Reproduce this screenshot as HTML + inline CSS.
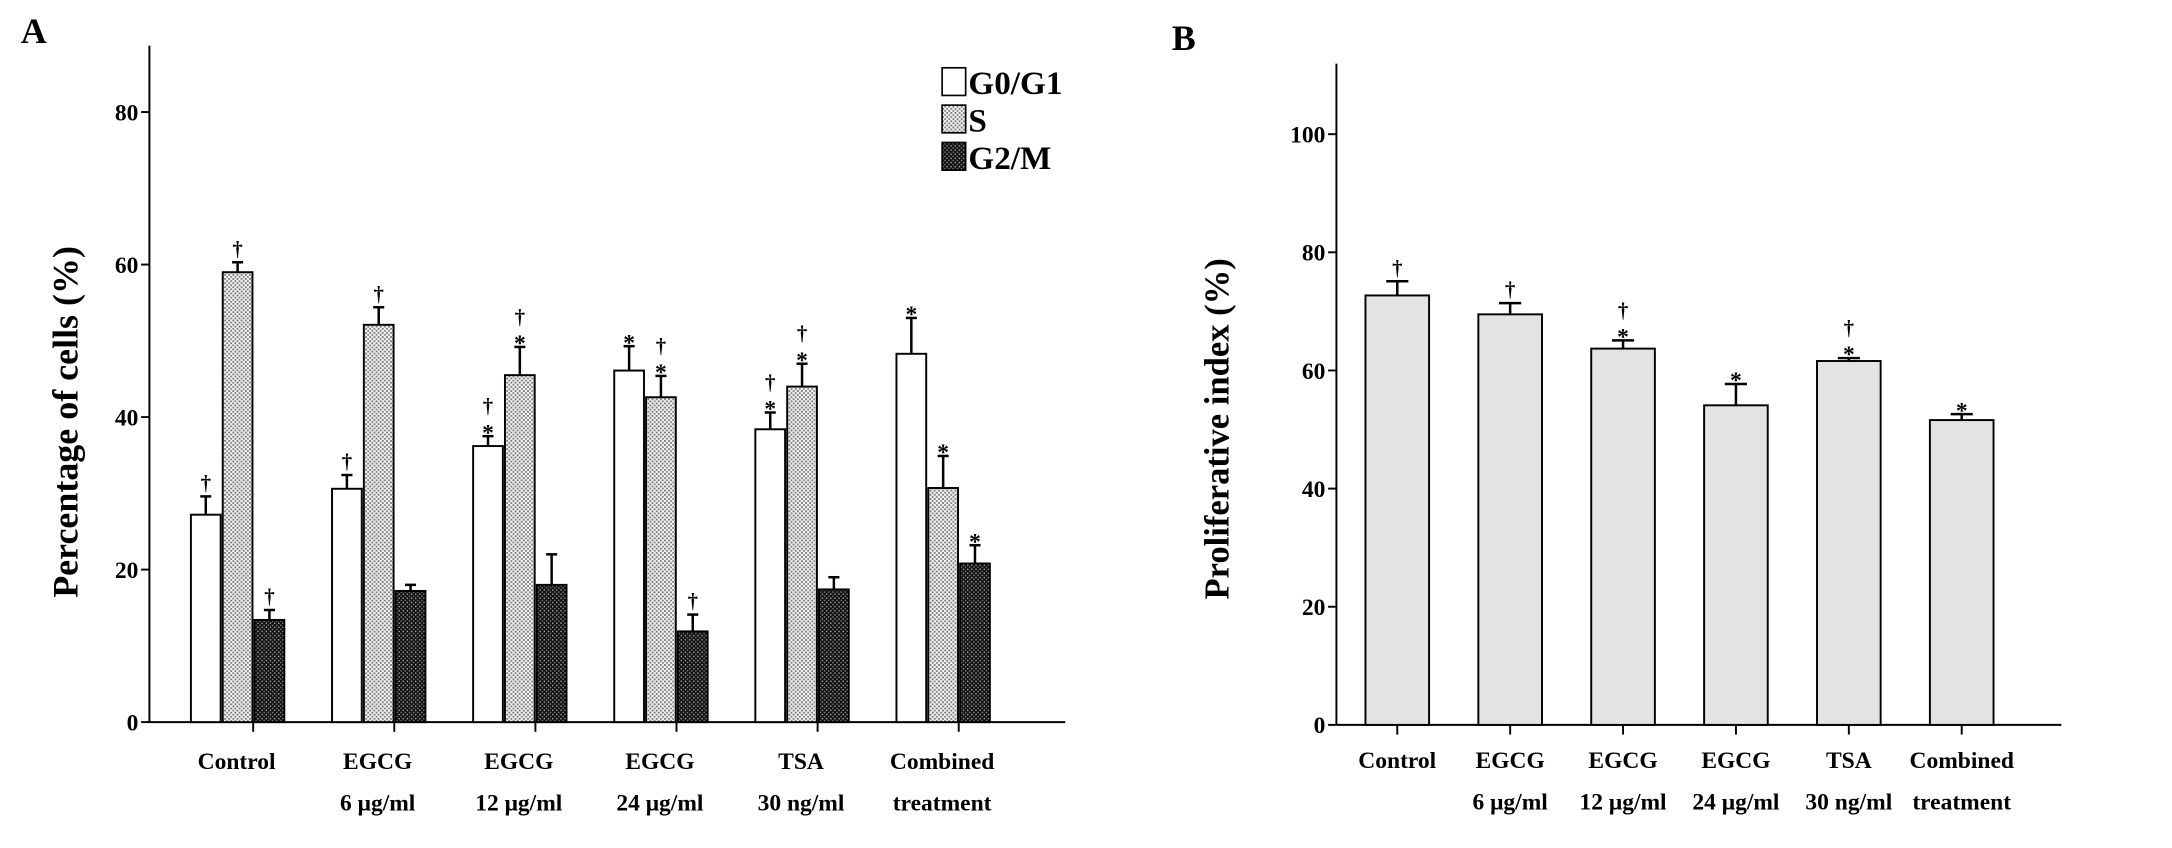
<!DOCTYPE html>
<html><head><meta charset="utf-8">
<style>
html,body{margin:0;padding:0;background:#fff;}
svg{display:block;}
text{font-family:"Liberation Serif",serif;font-weight:bold;fill:#000;}
</style></head>
<body>
<svg id="fig" width="2172" height="848" viewBox="0 0 1570 613" preserveAspectRatio="none" xmlns="http://www.w3.org/2000/svg">
<defs>
<pattern id="patS" width="3" height="3" patternUnits="userSpaceOnUse">
<rect width="3" height="3" fill="#f4f4f4"/><rect x="0" y="0" width="1.3" height="1.3" fill="#777"/><rect x="1.5" y="1.5" width="1.3" height="1.3" fill="#777"/>
</pattern>
<pattern id="patG" width="3" height="3" patternUnits="userSpaceOnUse">
<rect width="3" height="3" fill="#111"/><rect x="0" y="0" width="1" height="1" fill="#aaa"/><rect x="1.5" y="1.5" width="1" height="1" fill="#888"/>
</pattern>
</defs>
<g id="panelA"></g>
<g id="panelB"></g>
</svg>
<script>
// ---- Panel A data ----
const categoriesA = [["Control",""],["EGCG","6 μg/ml"],["EGCG","12 μg/ml"],["EGCG","24 μg/ml"],["TSA","30 ng/ml"],["Combined","treatment"]];
const seriesNames = ["G0/G1","S","G2/M"];
const g0g1Values = [27.2, 30.6, 36.2, 46.1, 38.4, 48.3];
const g0g1Errors = [2.4, 1.8, 1.3, 3.2, 2.2, 4.7];
const sValues = [59.0, 52.1, 45.5, 42.6, 44.0, 30.7];
const sErrors = [1.3, 2.3, 3.7, 2.8, 3.0, 4.2];
const g2mValues = [13.4, 17.2, 18.0, 11.9, 17.4, 20.8];
const g2mErrors = [1.3, 0.8, 4.0, 2.2, 1.6, 2.4];
const annotG0 = ["†","†","*†","*","*†","*"];
const annotS = ["†","†","*†","*†","*†","*"];
const annotG2M = ["†","","","†","","*"];
const ticksA = [0,20,40,60,80];
// ---- Panel B data ----
const categoriesB = categoriesA;
const prolifValues = [72.7, 69.5, 63.7, 54.1, 61.6, 51.6];
const prolifErrors = [2.4, 1.9, 1.4, 3.6, 0.5, 1.0];
const annotB = ["†","†","*†","*","*†","*"];
const ticksB = [0,20,40,60,80,100];

const NS="http://www.w3.org/2000/svg";
function mk(parent, tag, attrs, txt){
  const e=document.createElementNS(NS,tag);
  for(const k in attrs) e.setAttribute(k,attrs[k]);
  if(txt!==undefined) e.textContent=txt;
  parent.appendChild(e); return e;
}
function annot(parent, cx, yTop, marks, size){
  // marks string: "*" , "†", "*†" (star lower, dagger above)
  let y=yTop-5;
  if(marks.indexOf("*")>=0){
    const t=mk(parent,"text",{x:cx,y:y+8,"text-anchor":"middle","font-size":size+2},"*");
    
    
    y-=12;
  }
  if(marks.indexOf("†")>=0){
    const t=mk(parent,"text",{x:cx,y:y,"text-anchor":"middle","font-size":size},"†");
    
    
  }
}

// ===== Panel A =====
const A=document.getElementById("panelA");
const axA={x0:108, top:33, base:522, perUnit:5.5125, right:770, groupStart:183, groupStep:102};
const yA=v=>axA.base - v*axA.perUnit;
const xA=i=>axA.groupStart + i*axA.groupStep;
let t;
t=mk(A,"text",{x:15,y:31,"font-size":26},"A");
 
let l=mk(A,"line",{x1:axA.x0,y1:axA.top,x2:axA.x0,y2:axA.base,stroke:"#000","stroke-width":1.4});
 
l=mk(A,"line",{x1:axA.x0,y1:axA.base,x2:axA.right,y2:axA.base,stroke:"#000","stroke-width":1.4});
 
ticksA.forEach(v=>{
  const tk=mk(A,"line",{x1:axA.x0-6,y1:yA(v),x2:axA.x0,y2:yA(v),stroke:"#000","stroke-width":1.4});
   
  const tl=mk(A,"text",{x:axA.x0-8,y:yA(v)+6,"text-anchor":"end","font-size":17},String(v));
   
});
t=mk(A,"text",{x:0,y:0,"text-anchor":"middle","font-size":26,transform:"translate(56,305) rotate(-90)"},"Percentage of cells (%)");
 

const seriesA=[
  {vals:g0g1Values, errs:g0g1Errors, ann:annotG0, fill:"#fff", off:-45},
  {vals:sValues, errs:sErrors, ann:annotS, fill:"url(#patS)", off:-22},
  {vals:g2mValues, errs:g2mErrors, ann:annotG2M, fill:"url(#patG)", off:1}
];
const bwA=21.5;
categoriesA.forEach((c,i)=>{
  const cx=xA(i);
  const tk=mk(A,"line",{x1:cx,y1:axA.base,x2:cx,y2:axA.base+7,stroke:"#000","stroke-width":1.4});
   
  const lx=cx-12;
  const t1=mk(A,"text",{x:lx,y:axA.base+34,"text-anchor":"middle","font-size":17},c[0]);
   
  if(c[1]){
    const t2=mk(A,"text",{x:lx,y:axA.base+64,"text-anchor":"middle","font-size":17},c[1]);
     
  }
  seriesA.forEach((s,si)=>{
    const x=cx+s.off, v=s.vals[i], e=s.errs[i];
    const bcx=x+bwA/2;
    const eb=mk(A,"line",{x1:bcx,y1:yA(v),x2:bcx,y2:yA(v+e),stroke:"#000","stroke-width":1.8});
     
    const cap=mk(A,"line",{x1:bcx-4,y1:yA(v+e),x2:bcx+4,y2:yA(v+e),stroke:"#000","stroke-width":1.8});
     
    const r=mk(A,"rect",{x:x,y:yA(v),width:bwA,height:v*axA.perUnit,fill:s.fill,stroke:"#000","stroke-width":1.4});
    
    
    if(s.ann[i]) annot(A,bcx,yA(v+e),s.ann[i],15);
  });
});
// legend
const legY=[49,76,103], legFill=["#fff","url(#patS)","url(#patG)"];
seriesNames.forEach((n,k)=>{
  const r=mk(A,"rect",{x:681,y:legY[k],width:17,height:20,fill:legFill[k],stroke:"#000","stroke-width":1.2});
   
  const tt=mk(A,"text",{x:700,y:legY[k]+19,"font-size":24},n);
   
});

// ===== Panel B =====
const B=document.getElementById("panelB");
const axB={x0:966, top:46, base:524, perUnit:4.27, right:1490, groupStart:1010, groupStep:81.6};
const yB=v=>axB.base - v*axB.perUnit;
const xB=i=>axB.groupStart + i*axB.groupStep;
t=mk(B,"text",{x:847,y:36,"font-size":26},"B");
 
l=mk(B,"line",{x1:axB.x0,y1:axB.top,x2:axB.x0,y2:axB.base,stroke:"#000","stroke-width":1.4});
 
l=mk(B,"line",{x1:axB.x0,y1:axB.base,x2:axB.right,y2:axB.base,stroke:"#000","stroke-width":1.4});
 
ticksB.forEach(v=>{
  const tk=mk(B,"line",{x1:axB.x0-6,y1:yB(v),x2:axB.x0,y2:yB(v),stroke:"#000","stroke-width":1.4});
   
  const tl=mk(B,"text",{x:axB.x0-8,y:yB(v)+6,"text-anchor":"end","font-size":17},String(v));
   
});
t=mk(B,"text",{x:0,y:0,"text-anchor":"middle","font-size":25,transform:"translate(888,310) rotate(-90)"},"Proliferative index (%)");
 
const bwB=46;
categoriesB.forEach((c,i)=>{
  const cx=xB(i), v=prolifValues[i], e=prolifErrors[i];
  const tk=mk(B,"line",{x1:cx,y1:axB.base,x2:cx,y2:axB.base+7,stroke:"#000","stroke-width":1.4});
   
  const t1=mk(B,"text",{x:cx,y:axB.base+31,"text-anchor":"middle","font-size":17},c[0]);
   
  if(c[1]){
    const t2=mk(B,"text",{x:cx,y:axB.base+61,"text-anchor":"middle","font-size":17},c[1]);
     
  }
  const eb=mk(B,"line",{x1:cx,y1:yB(v),x2:cx,y2:yB(v+e),stroke:"#000","stroke-width":1.8});
   
  const cap=mk(B,"line",{x1:cx-8,y1:yB(v+e),x2:cx+8,y2:yB(v+e),stroke:"#000","stroke-width":1.8});
   
  const r=mk(B,"rect",{x:cx-bwB/2,y:yB(v),width:bwB,height:v*axB.perUnit,fill:"#e3e3e3",stroke:"#000","stroke-width":1.4});
  
  
  annot(B,cx,yB(v+e),annotB[i],15);
});
</script>
</body></html>
